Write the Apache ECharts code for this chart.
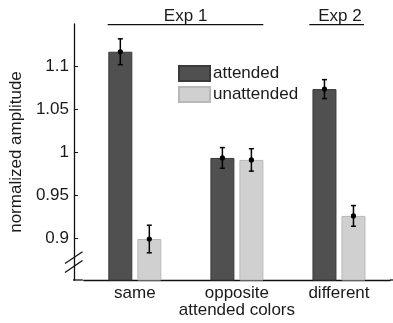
<!DOCTYPE html>
<html>
<head>
<meta charset="utf-8">
<script src="https://cdn.jsdelivr.net/npm/echarts@6/dist/echarts.min.js"></script>
<style>
html,body{margin:0;padding:0;background:#fff;}
#c{width:393px;height:323px;}
</style>
</head>
<body>
<div id="c"></div>
<script>
// ---- data ----
const categories = ['same', 'opposite\nattended colors', 'different'];
const attended = [1.1166, 0.9933, 1.0732];
const attendedErr = [0.015, 0.012, 0.011];
const unattended = [0.8992, 0.9910, 0.9260];
const unattendedErr = [0.016, 0.013, 0.012];
const yTicks = [0.9, 0.95, 1, 1.05, 1.1];
const yMin = 0.8516, yMax = 1.1488;

// ---- style ----
const FONT = 'Liberation Sans, Arial, sans-serif';
const FS = 17;
const TXT = '#1a1a1a';
const BAR_W = 24, BAR_GAP = 5;
const GRID = {left: 82.8, right: 3, top: 24, bottom: 43};
const AXIS_X = 73;

function errSeries(name, means, errs, sign) {
  return {
    type: 'custom',
    name: name + ' err',
    z: 5,
    silent: true,
    clip: false,
    encode: {x: 0, y: 1},
    data: means.map((m, i) => [i, m, m - errs[i], m + errs[i]]),
    renderItem: function (params, api) {
      const off = sign * (BAR_W + BAR_GAP) / 2;
      const c = api.coord([api.value(0), api.value(1)]);
      const lo = api.coord([api.value(0), api.value(2)]);
      const hi = api.coord([api.value(0), api.value(3)]);
      const x = c[0] + off;
      const st = {stroke: '#000', lineWidth: 1.5};
      return {
        type: 'group',
        children: [
          {type: 'line', shape: {x1: x, y1: lo[1], x2: x, y2: hi[1]}, style: st},
          {type: 'line', shape: {x1: x - 2.5, y1: lo[1], x2: x + 2.5, y2: lo[1]}, style: st},
          {type: 'line', shape: {x1: x - 2.5, y1: hi[1], x2: x + 2.5, y2: hi[1]}, style: st},
          {type: 'circle', shape: {cx: x, cy: c[1], r: 2.6}, style: {fill: '#000'}}
        ]
      };
    }
  };
}

const chart = echarts.init(document.getElementById('c'), null, {renderer: 'canvas'});
const axisBottomY = 323 - GRID.bottom;
chart.setOption({
  animation: false,
  backgroundColor: '#fff',
  textStyle: {fontFamily: FONT},
  grid: GRID,
  legend: {
    orient: 'vertical',
    left: 178,
    top: 65,
    padding: 0,
    itemWidth: 31,
    itemHeight: 15,
    itemGap: 4,
    icon: 'rect',
    data: ['attended', 'unattended'],
    textStyle: {fontSize: FS, color: TXT, fontFamily: FONT, padding: [0, 0, 0, -2]}
  },
  xAxis: {
    type: 'category',
    data: categories,
    axisLine: {lineStyle: {color: '#111', width: 1.3}},
    axisTick: {alignWithLabel: true, inside: true, length: 3, lineStyle: {color: '#111'}},
    axisLabel: {interval: 0, hideOverlap: false, fontSize: FS, color: TXT, margin: 5, lineHeight: 17, fontFamily: FONT}
  },
  yAxis: {
    type: 'value',
    min: yMin,
    max: yMax,
    offset: GRID.left - AXIS_X,
    splitLine: {show: false},
    axisLine: {show: true, lineStyle: {color: '#111', width: 1.3}},
    axisTick: {show: true, inside: true, length: 4, customValues: yTicks, lineStyle: {color: '#111'}},
    axisLabel: {fontSize: FS, color: TXT, margin: 5, customValues: yTicks, fontFamily: FONT,
      formatter: v => String(+v.toFixed(2))},
    name: 'normalized amplitude',
    nameLocation: 'middle',
    nameRotate: 90,
    nameGap: 39,
    nameTextStyle: {fontSize: FS, color: TXT, fontFamily: FONT}
  },
  series: [
    {
      type: 'bar', name: 'attended', data: attended,
      barWidth: BAR_W, barGap: (BAR_GAP / BAR_W * 100) + '%',
      itemStyle: {color: '#505050', borderColor: '#3a3a3a', borderWidth: 1}
    },
    {
      type: 'bar', name: 'unattended', data: unattended,
      barWidth: BAR_W,
      itemStyle: {color: '#d0d0d0', borderColor: '#b8b8b8', borderWidth: 1}
    },
    errSeries('attended', attended, attendedErr, -1),
    errSeries('unattended', unattended, unattendedErr, 1)
  ],
  graphic: [
    {type: 'line', shape: {x1: AXIS_X, y1: axisBottomY, x2: GRID.left, y2: axisBottomY}, style: {stroke: '#111', lineWidth: 1.3}},
    {type: 'line', shape: {x1: 390, y1: axisBottomY, x2: 393, y2: axisBottomY}, style: {stroke: '#111', lineWidth: 1.3}},
    {type: 'line', shape: {x1: 65, y1: 263.5, x2: 82.5, y2: 251.7}, style: {stroke: '#111', lineWidth: 1.3}},
    {type: 'line', shape: {x1: 65, y1: 272.5, x2: 82.5, y2: 260.5}, style: {stroke: '#111', lineWidth: 1.3}},
    {type: 'line', shape: {x1: 107.7, y1: 24.7, x2: 263.3, y2: 24.7}, style: {stroke: '#111', lineWidth: 1.3}},
    {type: 'line', shape: {x1: 309.3, y1: 24.7, x2: 364, y2: 24.7}, style: {stroke: '#111', lineWidth: 1.3}},
    {type: 'text', x: 185.6, y: 16, style: {text: 'Exp 1', fill: TXT, font: FS + 'px ' + FONT, textAlign: 'center', textVerticalAlign: 'middle'}},
    {type: 'text', x: 340, y: 16, style: {text: 'Exp 2', fill: TXT, font: FS + 'px ' + FONT, textAlign: 'center', textVerticalAlign: 'middle'}}
  ]
});
</script>
</body>
</html>
